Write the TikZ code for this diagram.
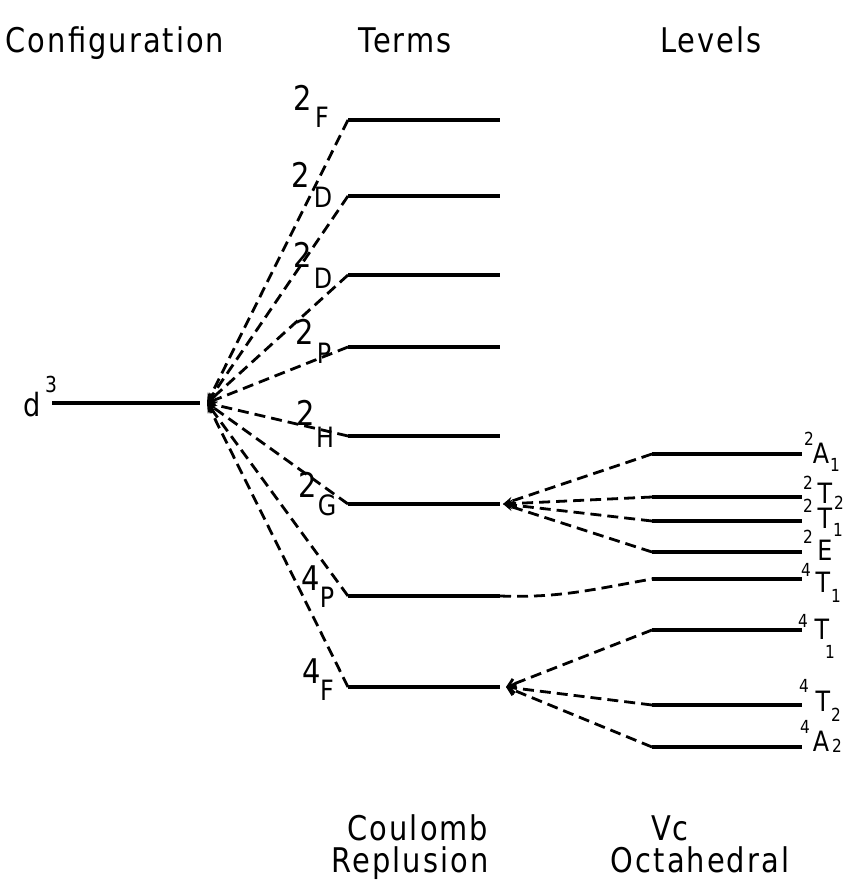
\documentclass[tikz,border=0pt]{standalone}
\usepackage{fontspec}
\setmainfont{DejaVu Sans}[FakeStretch=0.85]
\newfontfamily\headfont{DejaVu Sans}[FakeStretch=0.85, LetterSpace=6]
\usetikzlibrary{arrows.meta}
\tikzset{
  lvl/.style={line width=3.4pt},
  conn/.style={line width=2.8pt, dash pattern=on 11pt off 6pt},
  fanin/.style={conn, -{Stealth[length=10pt,width=8pt]}},
  fanopen/.style={conn, -{Straight Barb[length=7pt,width=10pt]}},
  headtxt/.style={font=\headfont\fontsize{34}{34}\selectfont, inner sep=0pt, anchor=base},
  lblbig/.style={font=\fontsize{28}{28}\selectfont, inner sep=0pt},
  lblsup/.style={font=\fontsize{34}{34}\selectfont, inner sep=0pt},
  lblsmall/.style={font=\fontsize{18}{18}\selectfont, inner sep=0pt},
}
\begin{document}
\begin{tikzpicture}[x=1pt,y=-1pt]
\useasboundingbox (0,0) rectangle (849,880);
% headers
\node[headtxt] (hconf) at (115,53) {Configuration};
\node[headtxt] (hterms) at (405,53) {Terms};
\node[headtxt] (hlev) at (711,53) {Levels};
\node[headtxt] (bcoul) at (418,840) {Coulomb};
\node[headtxt] (brep) at (410,872) {Replusion};
\node[headtxt] (bvc) at (670,840) {Vc};
\node[headtxt] (boct) at (700,872) {Octahedral};
% configuration
\node[font=\fontsize{32}{32}\selectfont, inner sep=0pt] (dlab) at (32,405) {d};
\node[font=\fontsize{22}{22}\selectfont, inner sep=0pt] (dsup) at (51,384) {3};
\coordinate (d3l) at (52,403);
\coordinate (d3r) at (200,403);
\coordinate (fanA) at (207,403);
\draw[lvl] (d3l) -- (d3r);
% terms
\foreach \n/\y in {tF/120, tDa/196, tDb/275, tP/347, tH/436, tG/504, tQ/596, tR/687}{
  \coordinate (\n l) at (348,\y);
  \coordinate (\n r) at (500,\y);
  \draw[lvl] (\n l) -- (\n r);
  \draw[fanin] (\n l) -- (fanA);
}
% term labels
\node[lblsup] (sF) at (303,98) {2};  \node[lblbig] (lF) at (322,117) {F};
\node[lblsup] (sDa) at (301,175) {2}; \node[lblbig] (lDa) at (323,197) {D};
\node[lblsup] (sDb) at (303,255) {2}; \node[lblbig] (lDb) at (323,278) {D};
\node[lblsup] (sP) at (305,332) {2};  \node[lblbig] (lP) at (324,353) {P};
\node[lblsup] (sH) at (306,413) {2};  \node[lblbig] (lH) at (325,437) {H};
\node[lblsup] (sG) at (308,485) {2};  \node[lblbig] (lG) at (327,505) {G};
\node[lblsup] (sQ) at (311,578) {4};  \node[lblbig] (lQ) at (327,597) {P};
\node[lblsup] (sR) at (312,671) {4};  \node[lblbig] (lR) at (327,690) {F};
% levels
\foreach \n/\y in {vA/454, vTb/497, vTa/521, vE/552, vQ/579, vRa/630, vRb/705, vRc/747}{
  \coordinate (\n l) at (652,\y);
  \coordinate (\n r) at (802,\y);
  \draw[lvl] (\n l) -- (\n r);
}
\coordinate (fanG) at (503,504);
\coordinate (fanF) at (506,687);
\foreach \n in {vA, vTb, vTa, vE}{ \draw[fanin] (\n l) -- (fanG); }
\foreach \n in {vRa, vRb, vRc}{ \draw[fanopen] (\n l) -- (fanF); }
\draw[conn] (tQr) to[out=-2,in=190] (vQl);
% level labels
\node[lblsmall] (a1) at (809,439) {2}; \node[lblbig] (a2) at (821,453) {A}; \node[lblsmall] (a3) at (835,465) {1};
\node[lblsmall] (b1) at (808,483) {2}; \node[lblbig] (b2) at (825,493) {T}; \node[lblsmall] (b3) at (839,503) {2};
\node[lblsmall] (c1) at (808,506) {2}; \node[lblbig] (c2) at (825,518) {T}; \node[lblsmall] (c3) at (838,530) {1};
\node[lblsmall] (e1) at (808,537) {2}; \node[lblbig] (e2) at (825,550) {E};
\node[lblsmall] (f1) at (806,570) {4}; \node[lblbig] (f2) at (823,582) {T}; \node[lblsmall] (f3) at (836,596) {1};
\node[lblsmall] (g1) at (803,621) {4}; \node[lblbig] (g2) at (822,629) {T}; \node[lblsmall] (g3) at (830,652) {1};
\node[lblsmall] (h1) at (804,686) {4}; \node[lblbig] (h2) at (823,701) {T}; \node[lblsmall] (h3) at (836,715) {2};
\node[lblsmall] (k1) at (805,727) {4}; \node[lblbig] (k2) at (821,741) {A}; \node[lblsmall] (k3) at (837,746) {2};
\end{tikzpicture}
\end{document}
